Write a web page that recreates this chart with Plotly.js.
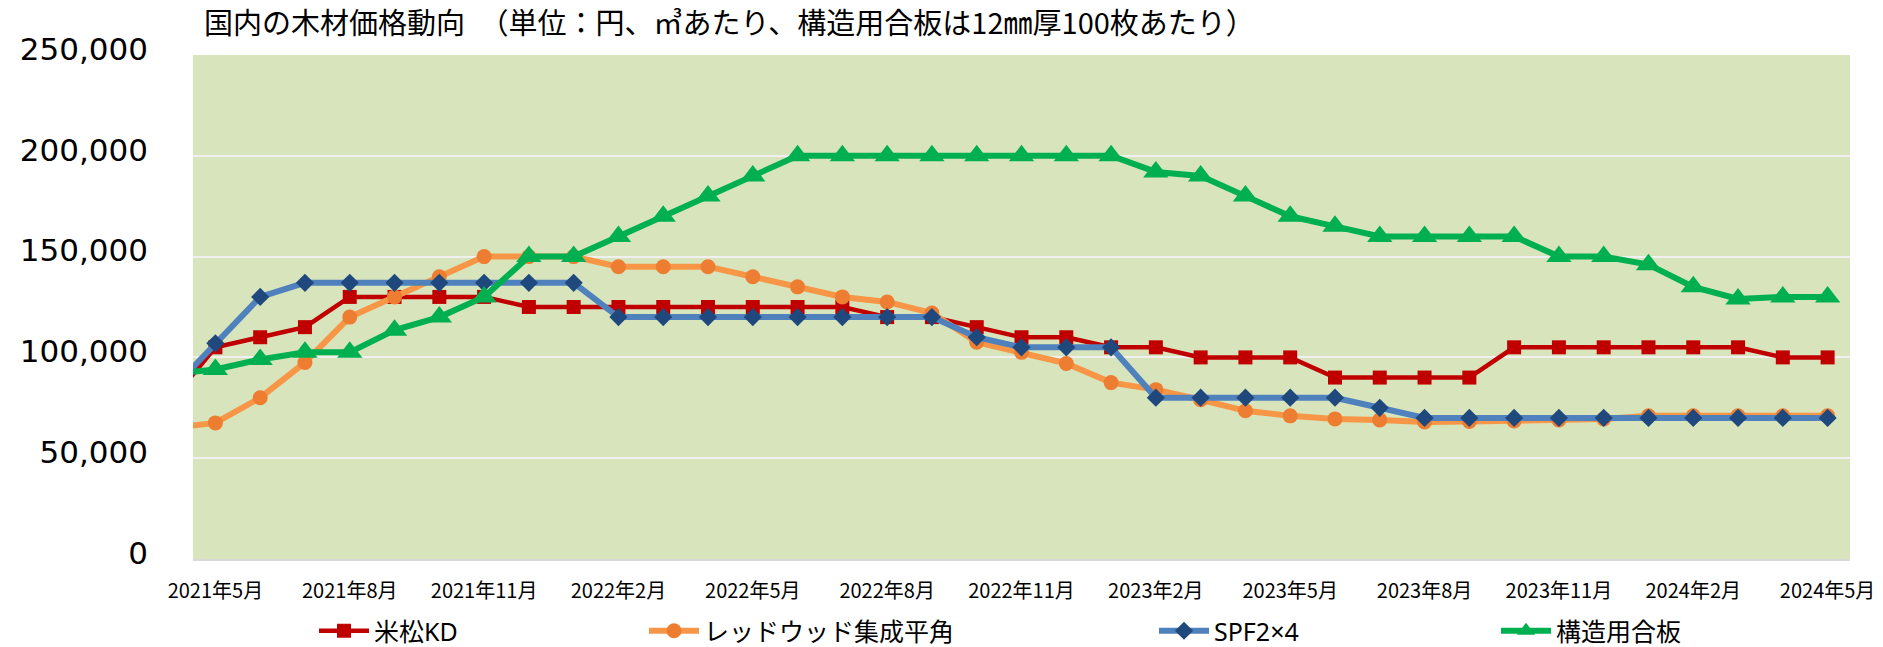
<!DOCTYPE html>
<html>
<head>
<meta charset="utf-8">
<script src="https://cdn.plot.ly/plotly-3.0.1.min.js"></script>
<style>html,body{margin:0;padding:0;background:#fff;}#chart{width:1883px;height:647px;}</style>
</head>
<body>
<div id="chart"></div>
<script>
// Months (first entry lies just outside the left edge of the plot; only its connecting segment is visible)
const months = ['2021年4月','2021年5月','2021年6月','2021年7月','2021年8月','2021年9月','2021年10月','2021年11月','2021年12月',
  '2022年1月','2022年2月','2022年3月','2022年4月','2022年5月','2022年6月','2022年7月','2022年8月','2022年9月','2022年10月','2022年11月','2022年12月',
  '2023年1月','2023年2月','2023年3月','2023年4月','2023年5月','2023年6月','2023年7月','2023年8月','2023年9月','2023年10月','2023年11月','2023年12月',
  '2024年1月','2024年2月','2024年3月','2024年4月','2024年5月'];

const tickLabels = ['2021年5月','2021年8月','2021年11月','2022年2月','2022年5月','2022年8月','2022年11月',
  '2023年2月','2023年5月','2023年8月','2023年11月','2024年2月','2024年5月'];

const seriesNames = ['米松KD','レッドウッド集成平角','SPF2×4','構造用合板'];

const beimatsuKD = [78000,105000,110000,115000,130000,130000,130000,130000,
  125000,125000,125000,125000,125000,125000,125000,125000,
  120000,120000,115000,110000,110000,105000,105000,100000,100000,100000,
  90000,90000,90000,90000,105000,105000,105000,105000,105000,105000,100000,100000];

const redwood = [65000,67500,80000,97500,120000,130000,140000,150000,150000,150000,
  145000,145000,145000,140000,135000,130000,127500,122000,107500,102500,97000,
  87500,84000,79000,73500,71000,69500,69000,68000,68200,68500,69000,69500,
  71000,71000,71000,71000,71000];

const spf = [83500,107000,130000,137000,137000,137000,137000,137000,137000,137000,
  120000,120000,120000,120000,120000,120000,120000,120000,110000,105000,105000,105000,
  80000,80000,80000,80000,80000,75000,70000,70000,70000,70000,70000,70000,70000,70000,70000,70000];

const plywood = [91700,94000,99000,102500,102500,113500,120000,130000,150000,150000,
  160000,170000,180000,190000,200000,200000,200000,200000,200000,200000,200000,200000,
  192000,190000,180000,170000,165000,160000,160000,160000,160000,150000,150000,146000,
  135000,129000,130000,130000];

const yTicks = [0,50000,100000,150000,200000,250000];

const W = 1883, H = 647;
const traces = [
  {y: beimatsuKD, name: seriesNames[0], legend: 'legend',
   line: {color: '#C00000', width: 4.5},
   marker: {symbol: 'square', size: 14, color: '#C00000', line: {width: 0}}},
  {y: redwood, name: seriesNames[1], legend: 'legend2',
   line: {color: '#F79646', width: 6},
   marker: {symbol: 'circle', size: 15, color: '#ED7D31', line: {width: 0}}},
  {y: spf, name: seriesNames[2], legend: 'legend3',
   line: {color: '#4F81BD', width: 6},
   marker: {symbol: 'diamond', size: 14, color: '#1F497D', line: {width: 0}}},
  {y: plywood, name: seriesNames[3], legend: 'legend4',
   line: {color: '#00B050', width: 6},
   marker: {symbol: 'triangle-up', size: 22, color: '#00B050', line: {width: 0}}}
].map(t => Object.assign({type: 'scatter', mode: 'lines+markers', x: months, cliponaxis: true}, t));

function legendAt(px) {
  return {x: px / W, xref: 'container', xanchor: 'left', y: 1 - 631 / H, yref: 'container', yanchor: 'middle',
    orientation: 'h', bgcolor: 'rgba(0,0,0,0)', itemwidth: 50,
    font: {family: '"Noto Sans", "Noto Sans CJK JP", sans-serif', size: 25, color: '#000'}};
}

const layout = {
  width: W, height: H,
  margin: {l: 193, r: 33, t: 55, b: 88, pad: 0},
  paper_bgcolor: '#FFFFFF',
  plot_bgcolor: '#D8E4BC',
  showlegend: true,
  title: {text: '国内の木材価格動向　（単位：円、㎥あたり、構造用合板は12㎜厚100枚あたり）',
    x: 204 / W, xref: 'container', xanchor: 'left', y: 1 - 24 / H, yref: 'container', yanchor: 'middle',
    font: {family: '"Noto Sans CJK JP", sans-serif', size: 29, color: '#000'}},
  xaxis: {type: 'category', categoryorder: 'array', categoryarray: months,
    range: [0.5, months.length - 0.5],
    tickmode: 'array', tickvals: tickLabels, ticktext: tickLabels,
    ticks: '', ticklabelstandoff: 13, showgrid: false, zeroline: false,
    showline: true, linecolor: '#D9D9D9', linewidth: 2,
    tickangle: 0,
    tickfont: {family: '"Noto Sans CJK JP", sans-serif', size: 20, color: '#000'}},
  yaxis: {range: [0, 250000], tickmode: 'array', tickvals: yTicks,
    tickformat: ',d',
    ticks: '', ticklabelstandoff: 44, ticklabelshift: -6,
    showgrid: true, gridcolor: '#F0F0F0', gridwidth: 2, zeroline: false, showline: false,
    tickfont: {family: '"DejaVu Sans", sans-serif', size: 31, color: '#000'}},
  separators: '.,',
  legend: legendAt(314),
  legend2: legendAt(644),
  legend3: legendAt(1154),
  legend4: legendAt(1496)
};

Plotly.newPlot('chart', traces, layout, {displayModeBar: false, responsive: false});
</script>
</body>
</html>
